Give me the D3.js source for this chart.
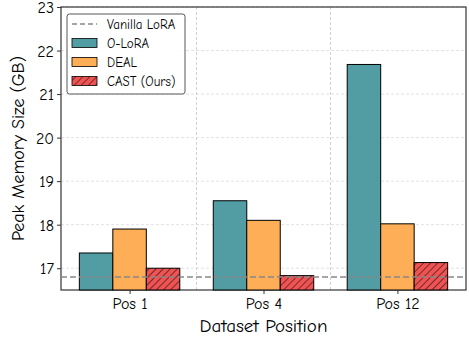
<!DOCTYPE html>
<html>
<head>
<meta charset="utf-8">
<script src="https://cdn.jsdelivr.net/npm/d3@7"></script>
<style>
  html, body { margin: 0; padding: 0; background: #fff; }
  svg text { font-family: "Comic Sans MS", "Comic Neue", "DejaVu Sans", sans-serif; fill: #000; }
</style>
</head>
<body>
<svg id="chart" width="469" height="338"></svg>
<script>
// Peak memory per dataset position
const positions = ["Pos 1", "Pos 4", "Pos 12"];
const seriesNames = ["O-LoRA", "DEAL", "CAST (Ours)"];
const olora = [17.35, 18.55, 21.68];
const deal = [17.9, 18.1, 18.02];
const cast = [17.0, 16.83, 17.13];
const vanillaLoRA = 16.8;
const yTicks = [17, 18, 19, 20, 21, 22, 23];

const colors = ["#529da3", "#fdae56", "#f05353"];
const seriesValues = [olora, deal, cast];

const svg = d3.select("#chart");
const margin = { left: 61, right: 3, top: 7, bottom: 48 };
const W = 469, H = 338;

// Hatch for the CAST bars
const defs = svg.append("defs");
const pat = defs.append("pattern")
  .attr("id", "hatch")
  .attr("patternUnits", "userSpaceOnUse")
  .attr("width", 5).attr("height", 5)
  .attr("patternTransform", "rotate(45)");
pat.append("rect").attr("width", 5).attr("height", 5).attr("fill", colors[2]);
pat.append("line").attr("x1", 0).attr("y1", 0).attr("x2", 0).attr("y2", 5)
  .attr("stroke", "#000").attr("stroke-width", 1);

const x = d3.scaleLinear().domain([-0.512, 2.512]).range([margin.left, W - margin.right]);
const y = d3.scaleLinear().domain([16.5, 23]).range([H - margin.bottom, margin.top]);
const barW = 0.25;

const plot = svg.append("g");

// grid
plot.selectAll(".hgrid").data(yTicks).join("line")
  .attr("x1", x.range()[0]).attr("x2", x.range()[1])
  .attr("y1", d => y(d)).attr("y2", d => y(d))
  .attr("stroke", "#d9d9d9").attr("stroke-width", 0.8).attr("stroke-dasharray", "3,2");
plot.selectAll(".vgrid").data([0.5, 1.5]).join("line")
  .attr("x1", d => x(d)).attr("x2", d => x(d))
  .attr("y1", y.range()[0]).attr("y2", y.range()[1])
  .attr("stroke", "#d0d0d0").attr("stroke-width", 1).attr("stroke-dasharray", "3,2");

// frame
plot.append("rect")
  .attr("x", x.range()[0]).attr("y", y.range()[1])
  .attr("width", x.range()[1] - x.range()[0]).attr("height", y.range()[0] - y.range()[1])
  .attr("fill", "none").attr("stroke", "#333").attr("stroke-width", 1.2);

// bars
seriesValues.forEach((vals, s) => {
  plot.selectAll(".bar" + s).data(vals).join("rect")
    .attr("x", (d, i) => x(i + (s - 1) * barW - barW / 2))
    .attr("width", x(barW) - x(0))
    .attr("y", d => y(d))
    .attr("height", d => y(16.5) - y(d))
    .attr("fill", s === 2 ? "url(#hatch)" : colors[s])
    .attr("stroke", "#000").attr("stroke-width", 1);
});

// vanilla LoRA reference line
plot.append("line")
  .attr("x1", x.range()[0]).attr("x2", x.range()[1])
  .attr("y1", y(vanillaLoRA)).attr("y2", y(vanillaLoRA))
  .attr("stroke", "#888").attr("stroke-width", 1.6).attr("stroke-dasharray", "6,3");

// axes
const yAxis = d3.axisLeft(y).tickValues(yTicks).tickSize(4).tickPadding(3).tickFormat(d3.format("d"));
const gy = svg.append("g").attr("transform", `translate(${margin.left},0)`).call(yAxis);
gy.select(".domain").remove();
gy.selectAll("line").attr("stroke", "#333");
gy.selectAll("text").style("font-size", "16px").attr("dy", "0.35em");

const xAxis = d3.axisBottom(x).tickValues([0, 1, 2]).tickFormat(i => positions[i]).tickSize(4).tickPadding(4);
const gx = svg.append("g").attr("transform", `translate(0,${H - margin.bottom})`).call(xAxis);
gx.select(".domain").remove();
gx.selectAll("line").attr("stroke", "#333");
gx.selectAll("text").style("font-size", "16px");

svg.append("text")
  .attr("x", (x.range()[0] + x.range()[1]) / 2).attr("y", 332)
  .attr("text-anchor", "middle").style("font-size", "19px")
  .text("Dataset Position");

svg.append("text")
  .attr("transform", `translate(24,${(y.range()[0] + y.range()[1]) / 2}) rotate(-90)`)
  .attr("text-anchor", "middle").style("font-size", "18px")
  .text("Peak Memory Size (GB)");

// legend
const lg = svg.append("g").attr("transform", "translate(67,14)");
lg.append("rect").attr("width", 118).attr("height", 80).attr("rx", 2.5)
  .attr("fill", "#fff").attr("fill-opacity", 0.9).attr("stroke", "#444").attr("stroke-width", 0.9);
const rowY = [10, 29, 48, 67];
lg.append("line").attr("x1", 5).attr("x2", 30).attr("y1", rowY[0]).attr("y2", rowY[0])
  .attr("stroke", "#888").attr("stroke-width", 1.4).attr("stroke-dasharray", "5,3");
lg.append("text").attr("x", 40).attr("y", rowY[0] + 4.5).style("font-size", "13px").text("Vanilla LoRA");
seriesNames.forEach((n, s) => {
  lg.append("rect").attr("x", 5).attr("y", rowY[s + 1] - 4.5).attr("width", 25).attr("height", 9)
    .attr("fill", s === 2 ? "url(#hatch)" : colors[s]).attr("stroke", "#000").attr("stroke-width", 0.8);
  lg.append("text").attr("x", 40).attr("y", rowY[s + 1] + 4.5).style("font-size", "13px").text(n);
});
</script>
</body>
</html>
